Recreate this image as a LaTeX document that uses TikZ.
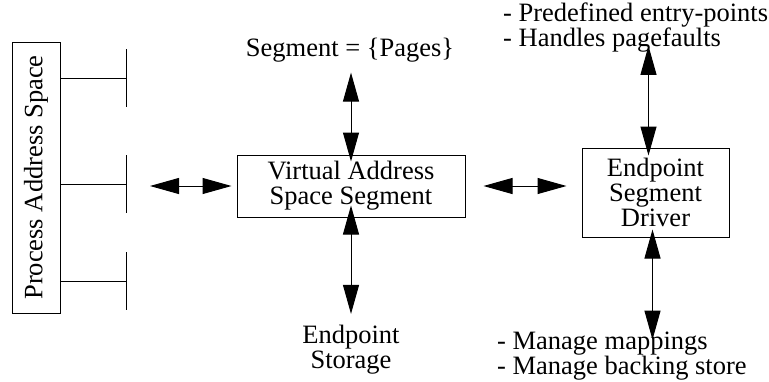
\documentclass[tikz,border=0pt]{standalone}
\usepackage{fontspec}
\setmainfont{Liberation Serif}
\usetikzlibrary{arrows.meta,positioning,calc}
\tikzset{
    box/.style={draw, line width=1pt, align=center, inner sep=0pt},
    dbl/.style={{Triangle[length=29pt,width=16pt]}-{Triangle[length=29pt,width=16pt]}, line width=1pt},
    tick/.style={-{Bar[width=58pt]}, line width=1pt},
}

\begin{document}
\begin{tikzpicture}[x=1pt, y=-1pt, font=\fontsize{26.5}{25}\selectfont]
        \useasboundingbox (0,0) rectangle (769,381);
        % process address space
        \node[box, rotate=90, minimum width=271pt, minimum height=48pt] (pas) at (36,177.5) {Process Address Space};
        \coordinate (t1) at (127,78);
        \coordinate (t2) at (127,184);
        \coordinate (t3) at (127,281);
        \draw[tick] (pas.south |- t1) -- (t1);
        \draw[tick] (pas.south |- t2) -- (t2);
        \draw[tick] (pas.south |- t3) -- (t3);
        % segment and driver
        \node[box, minimum width=228pt, minimum height=62pt] (vas) at (351,186) {Virtual Address\\Space Segment};
        \node[box, minimum width=147pt, minimum height=89pt] (drv) at (655.5,192.5) {Endpoint\\Segment\\Driver};
        \node (pages) at (350,50) {Segment = \{Pages\}};
        \node[align=center] (store) at (351,350) {Endpoint\\Storage};
        \node[align=left, anchor=west, inner sep=0pt] (entry) at (503,28) {- Predefined entry-points\\- Handles pagefaults};
        \node[align=left, anchor=west, inner sep=0pt] (manage) at (497,356) {- Manage mappings\\- Manage backing store};
        \coordinate (pasport) at (150,186);
        % connectors
        \draw[dbl] (pasport) -- ([xshift=-5pt]vas.west);
        \draw[dbl] ([xshift=18pt]vas.east) -- ([xshift=-15pt]drv.west |- vas.east);
        \draw[dbl] ([yshift=-7pt]vas.north) -- ([yshift=-7pt]vas.north |- pages.south);
        \draw[dbl] ([yshift=12pt]vas.south) -- ([yshift=8pt]vas.south |- store.north);
        \draw[dbl] ([xshift=-7pt,yshift=-8pt]drv.north) -- ([xshift=-7pt,yshift=7pt]drv.north |- entry.south);
        \draw[dbl] ([xshift=-3pt,yshift=8pt]drv.south) -- ([xshift=-3pt,yshift=-8pt]drv.south |- manage.north);
    \end{tikzpicture}
\end{document}
